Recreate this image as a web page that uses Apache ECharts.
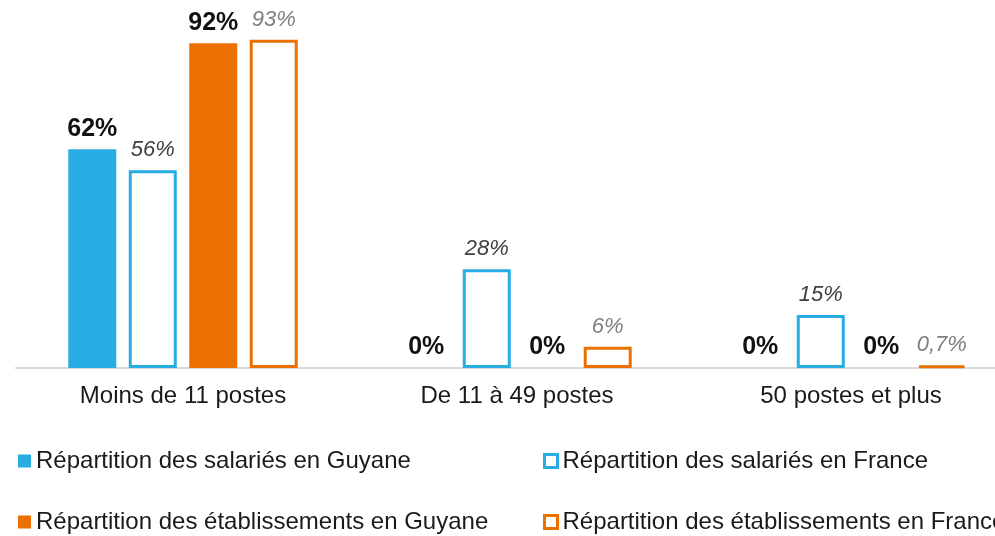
<!DOCTYPE html>
<html>
<head>
<meta charset="utf-8">
<script src="https://cdn.jsdelivr.net/npm/echarts@6/dist/echarts.min.js"></script>
<style>
html,body{margin:0;padding:0;background:#fff;}
#chart{width:995px;height:536px;}
</style>
</head>
<body>
<div id="chart"></div>
<script>
const categories = ["Moins de 11 postes", "De 11 à 49 postes", "50 postes et plus"];
const seriesNames = [
  "Répartition des salariés en Guyane",
  "Répartition des salariés en France",
  "Répartition des établissements en Guyane",
  "Répartition des établissements en France"
];
const salariesGuyane = [62, 0, 0];
const salariesFrance = [56, 28, 15];
const etabGuyane = [92, 0, 0];
const etabFrance = [93, 6, 0.7];

const BLUE = '#27ade2';
const ORANGE = '#eb7000';
const FONT = '"Liberation Sans", Arial, sans-serif';

function fmt(p) {
  return String(p.value).replace('.', ',') + '%';
}

const chart = echarts.init(document.getElementById('chart'), null, {renderer: 'canvas'});

function filled(name, data, color) {
  return {
    name, type: 'bar', data, barWidth: 48, barGap: '26%',
    itemStyle: {color},
    label: {show: true, position: 'top', distance: 8, formatter: fmt,
      fontFamily: FONT, fontSize: 25, fontWeight: 'bold', color: '#111'}
  };
}
function outlined(name, data, color, labelColor) {
  return {
    name, type: 'bar', data, barWidth: 48, barGap: '26%',
    itemStyle: {color: '#fff', borderColor: color, borderWidth: 3},
    label: {show: true, position: 'top', distance: 9, formatter: fmt,
      fontFamily: FONT, fontSize: 22, fontStyle: 'italic', color: labelColor}
  };
}

const legendPos = [
  {left: 18, top: 449},
  {left: 543, top: 449},
  {left: 18, top: 510},
  {left: 543, top: 510}
];
const legendIcons = [
  {color: BLUE},
  {color: '#fff', borderColor: BLUE, borderWidth: 3},
  {color: ORANGE},
  {color: '#fff', borderColor: ORANGE, borderWidth: 3}
];

chart.setOption({
  animation: false,
  backgroundColor: '#fff',
  grid: {left: 16, width: 1002, top: 15, bottom: 168, containLabel: false, outerBoundsMode: 'none'},
  legend: seriesNames.map((n, i) => ({
    left: legendPos[i].left, top: legendPos[i].top,
    orient: 'horizontal', icon: 'rect', itemWidth: 13, itemHeight: 13, itemGap: 5,
    padding: 0,
    data: [{name: n, itemStyle: legendIcons[i]}],
    textStyle: {fontFamily: FONT, fontSize: 24, color: '#1a1a1a'}
  })),
  xAxis: {
    type: 'category', data: categories,
    axisLine: {lineStyle: {color: '#d9d9d9', width: 2}},
    axisTick: {show: false},
    axisLabel: {fontFamily: FONT, fontSize: 24, color: '#1a1a1a', margin: 16}
  },
  yAxis: {
    type: 'value', min: 0, max: 100, show: false,
    splitLine: {show: false}
  },
  series: [
    filled(seriesNames[0], salariesGuyane, BLUE),
    outlined(seriesNames[1], salariesFrance, BLUE, '#404040'),
    filled(seriesNames[2], etabGuyane, ORANGE),
    outlined(seriesNames[3], etabFrance, ORANGE, '#7f7f7f')
  ]
});
</script>
</body>
</html>
